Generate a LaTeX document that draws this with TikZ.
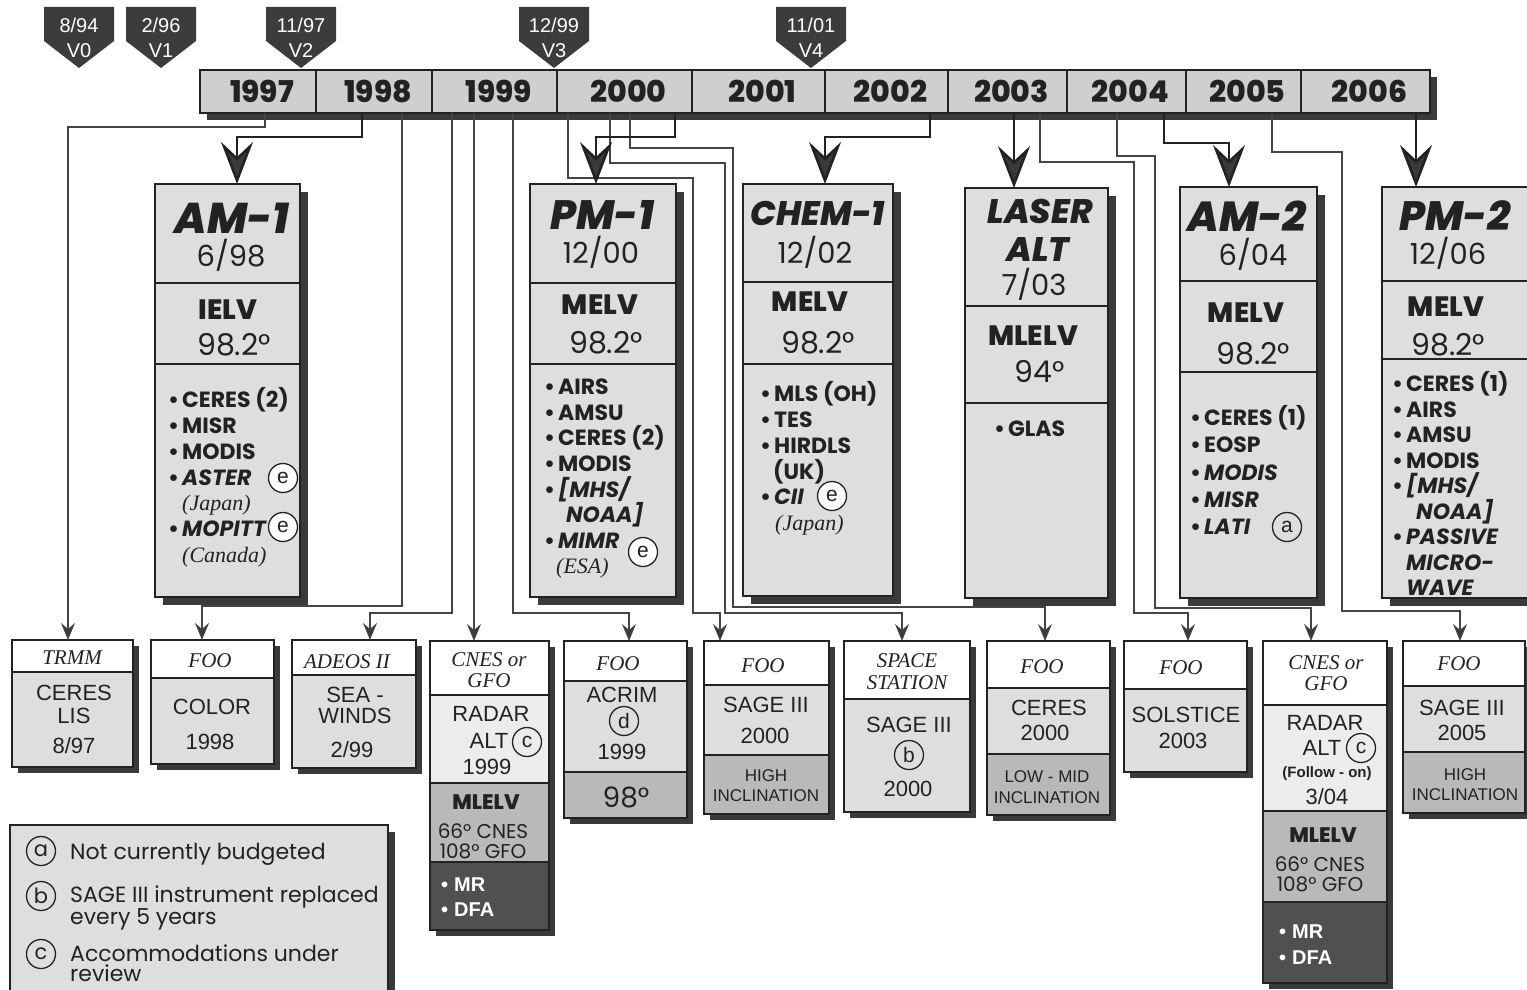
\documentclass[tikz,border=0pt]{standalone}
\usepackage{fontspec}
\usetikzlibrary{arrows.meta}
\newfontfamily\fut{Poppins}
\newfontfamily\futh{Poppins ExtraBold}[ItalicFont={Poppins ExtraBold Italic}]
\newfontfamily\hel{Liberation Sans}
\newfontfamily\tms{Liberation Serif}
\definecolor{ink}{HTML}{222222}
\definecolor{boxg}{HTML}{DEDEDE}
\definecolor{boxl}{HTML}{ECECEC}
\definecolor{barg}{HTML}{CFCFCF}
\definecolor{midg}{HTML}{B9B9B9}
\definecolor{darkg}{HTML}{505050}
\definecolor{shad}{HTML}{3A3A3A}
\definecolor{markc}{HTML}{3C3C3C}
\definecolor{linec}{HTML}{444444}
\newcommand\bu{\makebox[14pt][l]{\textbullet}}
\newcommand\shadowr[5]{\fill[shad] (#1+#5,#2+#5) rectangle (#3+#5,#4+#5);}
\newcommand\secbox[6]{\node[sec, fill=#6, minimum width={#3-#2}, minimum height={#5-#4}] (#1) at (#2,#4) {};}
\newcommand\mainbox[7]{%
  \shadowr{#2}{#4}{#3}{#7}{8}%
  \secbox{#1}{#2}{#3}{#4}{#5}{boxg}%
  \secbox{#1-m}{#2}{#3}{#5}{#6}{boxg}%
  \secbox{#1-l}{#2}{#3}{#6}{#7}{boxg}}
\newcommand\vmarker[4]{%
  \fill[markc] (#2-35,7) -- (#2+35,7) -- (#2+35,41) -- (#2,68) -- (#2-35,41) -- cycle;
  \node[mk] (#1-a) at (#2,25) {#3};
  \node[mk] (#1-b) at (#2,50) {#4};}
\tikzset{
  sec/.style={draw=ink, line width=1.8pt, anchor=north west, inner sep=0pt, outer sep=0pt},
  cell/.style={sec, fill=barg, minimum height=43, text=ink, font=\futh\fontsize{30}{30}\selectfont},
  mk/.style={anchor=base, inner sep=0pt, text=white, font=\hel\fontsize{20}{20}\selectfont, yshift=-7.2},
  fr/.style={anchor=base, inner sep=0pt, text=ink, font=\fut\fontsize{#1}{#1}\selectfont, yshift={-0.35*#1}},
  fb/.style={fr=#1, font=\fut\bfseries\fontsize{#1}{#1}\selectfont},
  fh/.style={fr=#1, font=\futh\fontsize{#1}{#1}\selectfont},
  fhi/.style={fr=#1, font=\futh\itshape\fontsize{#1}{#1}\selectfont},
  hr/.style={anchor=base, inner sep=0pt, text=ink, font=\hel\fontsize{#1}{#1}\selectfont, yshift={-0.358*#1}},
  hb/.style={hr=#1, font=\hel\bfseries\fontsize{#1}{#1}\selectfont},
  si/.style={anchor=base, inner sep=0pt, text=ink, font=\tms\itshape\fontsize{#1}{#1}\selectfont, yshift={-0.33*#1}},
  circ/.style={circle, draw=ink, line width=1.3pt, minimum size=29pt, inner sep=0pt, text=ink, font=\hel\fontsize{21}{21}\selectfont},
  circw/.style={circ, fill=white},
  bigc/.style={line width=2.6pt, draw=ink, -{Stealth[length=42pt, width=32pt, inset=15pt, fill=shad]}},
  smallc/.style={line width=1.1pt, draw=linec, -{Stealth[length=17pt, width=14pt, inset=6pt, fill=shad]}},
}
\begin{document}
\begin{tikzpicture}[x=1pt, y=-1pt]
\useasboundingbox (0,0) rectangle (1527,990);
\clip (0,0) rectangle (1527,990);

% version markers
\vmarker{m0}{79}{8/94}{V0}
\vmarker{m1}{161}{2/96}{V1}
\vmarker{m2}{301}{11/97}{V2}
\vmarker{m3}{554}{12/99}{V3}
\vmarker{m4}{811}{11/01}{V4}

% year bar
\fill[shad] (207,77) rectangle (1437,120);
\foreach \a/\b/\y in {200/316/1997, 316/432/1998, 432/557/1999, 557/692/2000, 692/825/2001, 825/948/2002, 948/1067/2003, 1067/1186/2004, 1186/1301/2005, 1301/1430/2006}
  \node[cell, minimum width={\b-\a}, text width={\b-\a-4}, align=right, inner xsep=0pt] (c\y) at (\a,70) {\makebox[\linewidth][c]{\hspace{8pt}\y}};

% ---------- main satellites ----------
% AM-1
\mainbox{am1}{155}{300}{184}{283}{364}{597}
\node[fhi=43] (am1-n) at (232,218) {AM-1};
\node[fr=29] (am1-d) at (231,256) {6/98};
\node[fh=28] (am1-v) at (228,310) {IELV};
\node[fr=30] (am1-i) at (234,345) {98.2°};
\foreach \t [count=\i from 0] in {{\bu CERES (2)}, {\bu MISR}, {\bu MODIS}, {\bu\itshape ASTER}, {\hspace*{14pt}\tms\mdseries\itshape (Japan)}, {\bu\itshape MOPITT}, {\hspace*{14pt}\tms\mdseries\itshape (Canada)}}
  \node[fb=22, anchor=base west] (am1-l\i) at (168,400+25.8*\i) {\t};
\node[circw] (am1-e1) at (283,478) {e};
\node[circw] (am1-e2) at (283,527) {e};

% PM-1
\mainbox{pm1}{530}{676}{184}{283}{364}{597}
\node[fhi=41] (pm1-n) at (602,215) {PM-1};
\node[fr=29] (pm1-d) at (601,253) {12/00};
\node[fh=28] (pm1-v) at (600,305) {MELV};
\node[fr=30] (pm1-i) at (606,343) {98.2°};
\foreach \t [count=\i from 0] in {{\bu AIRS}, {\bu AMSU}, {\bu CERES (2)}, {\bu MODIS}, {\bu\itshape [MHS/}, {\hspace*{22pt}\itshape NOAA]}, {\bu\itshape MIMR}, {\hspace*{12pt}\tms\mdseries\itshape (ESA)}}
  \node[fb=22, anchor=base west] (pm1-l\i) at (544,387+25.6*\i) {\t};
\node[circw] (pm1-e) at (643,552) {e};

% CHEM-1
\mainbox{chem}{743}{893}{184}{282}{364}{596}
\node[fhi=34] (chem-n) at (818,214) {CHEM-1};
\node[fr=29] (chem-d) at (815,253) {12/02};
\node[fh=28] (chem-v) at (810,302) {MELV};
\node[fr=30] (chem-i) at (818,343) {98.2°};
\foreach \t [count=\i from 0] in {{\bu MLS (OH)}, {\bu TES}, {\bu HIRDLS}, {\hspace*{13pt}(UK)}, {\bu\itshape CII}, {\hspace*{15pt}\tms\mdseries\itshape (Japan)}}
  \node[fb=22, anchor=base west] (chem-l\i) at (760,394+25.8*\i) {\t};
\node[circw] (chem-e) at (832,496) {e};

% LASER ALT
\mainbox{laser}{965}{1108}{188}{306}{403}{598}
\node[fhi=34] (laser-n1) at (1040,212) {LASER};
\node[fhi=34] (laser-n2) at (1038,250) {ALT};
\node[fr=29] (laser-d) at (1034,285) {7/03};
\node[fh=28] (laser-v) at (1033,336) {MLELV};
\node[fr=30] (laser-i) at (1040,372) {94°};
\node[fb=22, anchor=base west] (laser-l0) at (994,429) {\bu GLAS};

% AM-2
\mainbox{am2}{1180}{1317}{187}{281}{372}{598}
\node[fhi=42] (am2-n) at (1247,217) {AM-2};
\node[fr=29] (am2-d) at (1253,255) {6/04};
\node[fh=28] (am2-v) at (1246,313) {MELV};
\node[fr=30] (am2-i) at (1253,354) {98.2°};
\foreach \t [count=\i from 0] in {{\bu CERES (1)}, {\bu EOSP}, {\bu\itshape MODIS}, {\bu\itshape MISR}, {\bu\itshape LATI}}
  \node[fb=22, anchor=base west] (am2-l\i) at (1190,418+27.2*\i) {\t};
\node[circ] (am2-a) at (1287,527) {a};

% PM-2
\mainbox{pm2}{1382}{1545}{187}{281}{359}{598}
\node[fhi=41] (pm2-n) at (1455,216) {PM-2};
\node[fr=29] (pm2-d) at (1448,254) {12/06};
\node[fh=28] (pm2-v) at (1446,307) {MELV};
\node[fr=30] (pm2-i) at (1448,345) {98.2°};
\foreach \t [count=\i from 0] in {{\bu CERES (1)}, {\bu AIRS}, {\bu AMSU}, {\bu MODIS}, {\bu\itshape [MHS/}, {\hspace*{24pt}\itshape NOAA]}, {\bu\itshape PASSIVE}, {\hspace*{14pt}\itshape MICRO-}, {\hspace*{14pt}\itshape WAVE}}
  \node[fb=22, anchor=base west] (pm2-l\i) at (1392,384+25.5*\i) {\t};

% ---------- secondary missions ----------
% TRMM
\shadowr{12}{640}{133}{767}{6}
\secbox{trmm}{12}{133}{640}{672}{white}
\secbox{trmm-b}{12}{133}{672}{767}{boxg}
\node[si=21] (trmm-h) at (72,658) {TRMM};
\node[hr=22] (trmm-1) at (74,693) {CERES};
\node[hr=22] (trmm-2) at (74,716) {LIS};
\node[hr=22] (trmm-3) at (74,746) {8/97};

% COLOR
\shadowr{151}{640}{274}{764}{6}
\secbox{bcol}{151}{274}{640}{678}{white}
\secbox{bcol-b}{151}{274}{678}{764}{boxg}
\node[si=21] (bcol-h) at (210,661) {FOO};
\node[hr=22] (bcol-1) at (212,707) {COLOR};
\node[hr=22] (bcol-2) at (210,742) {1998};

% ADEOS II
\shadowr{292}{640}{416}{768}{6}
\secbox{adeos}{292}{416}{640}{675}{white}
\secbox{adeos-b}{292}{416}{675}{768}{boxg}
\node[si=21] (adeos-h) at (347,662) {ADEOS II};
\node[hr=22] (adeos-1) at (355,695) {SEA -};
\node[hr=22] (adeos-2) at (355,716) {WINDS};
\node[hr=22] (adeos-3) at (352,750) {2/99};

% CNES or GFO (1999)
\shadowr{430}{641}{549}{930}{6}
\secbox{cnesa}{430}{549}{641}{695}{white}
\secbox{cnesa-b}{430}{549}{695}{783}{boxl}
\secbox{cnesa-c}{430}{549}{783}{862}{midg}
\secbox{cnesa-d}{430}{549}{862}{930}{darkg}
\node[si=21] (cnesa-h1) at (489,660) {CNES or};
\node[si=21] (cnesa-h2) at (489,681) {GFO};
\node[hr=22] (cnesa-1) at (491,714) {RADAR};
\node[hr=22] (cnesa-2) at (489,741) {ALT};
\node[circ] (cnesa-c) at (527,742) {c};
\node[hr=22] (cnesa-3) at (487,767) {1999};
\node[fh=21] (cnesa-4) at (486,802) {MLELV};
\node[fr=20] (cnesa-5) at (483,831) {66° CNES};
\node[fr=20] (cnesa-6) at (483,851) {108° GFO};
\node[hb=20, text=white, anchor=base west] (cnesa-7) at (441,884) {\makebox[13pt][l]{\textbullet}MR};
\node[hb=20, text=white, anchor=base west] (cnesa-8) at (441,909) {\makebox[13pt][l]{\textbullet}DFA};

% ACRIM
\shadowr{564}{641}{687}{818}{6}
\secbox{acrim}{564}{687}{641}{681}{white}
\secbox{acrim-b}{564}{687}{681}{772}{boxg}
\secbox{acrim-c}{564}{687}{772}{818}{midg}
\node[si=21] (acrim-h) at (618,664) {FOO};
\node[hr=22] (acrim-1) at (622,695) {ACRIM};
\node[circ] (acrim-d) at (624,721) {d};
\node[hr=22] (acrim-2) at (622,752) {1999};
\node[fr=28] (acrim-3) at (626,798) {98°};

% SAGE III 2000
\shadowr{704}{641}{829}{814}{6}
\secbox{sagea}{704}{829}{641}{685}{white}
\secbox{sagea-b}{704}{829}{685}{755}{boxg}
\secbox{sagea-c}{704}{829}{755}{814}{midg}
\node[si=21] (sagea-h) at (763,666) {FOO};
\node[hr=22] (sagea-1) at (766,705) {SAGE III};
\node[hr=22] (sagea-2) at (765,736) {2000};
\node[hr=17] (sagea-3) at (766,775) {HIGH};
\node[hr=17] (sagea-4) at (766,795) {INCLINATION};

% SPACE STATION
\shadowr{844}{641}{970}{812}{6}
\secbox{stat}{844}{970}{641}{699}{white}
\secbox{stat-b}{844}{970}{699}{812}{boxg}
\node[si=21] (stat-h1) at (907,661) {SPACE};
\node[si=21] (stat-h2) at (907,683) {STATION};
\node[hr=22] (stat-1) at (909,725) {SAGE III};
\node[circ] (stat-b) at (909,755) {b};
\node[hr=22] (stat-2) at (908,789) {2000};

% CERES 2000
\shadowr{987}{641}{1110}{815}{6}
\secbox{cer}{987}{1110}{641}{688}{white}
\secbox{cer-b}{987}{1110}{688}{754}{boxg}
\secbox{cer-c}{987}{1110}{754}{815}{midg}
\node[si=21] (cer-h) at (1042,667) {FOO};
\node[hr=22] (cer-1) at (1049,708) {CERES};
\node[hr=22] (cer-2) at (1045,733) {2000};
\node[hr=17] (cer-3) at (1047,776) {LOW - MID};
\node[hr=17] (cer-4) at (1047,797) {INCLINATION};

% SOLSTICE
\shadowr{1124}{641}{1247}{772}{6}
\secbox{sol}{1124}{1247}{641}{689}{white}
\secbox{sol-b}{1124}{1247}{689}{772}{boxg}
\node[si=21] (sol-h) at (1181,668) {FOO};
\node[hr=22] (sol-1) at (1186,715) {SOLSTICE};
\node[hr=22] (sol-2) at (1183,741) {2003};

% CNES or GFO (3/04)
\shadowr{1263}{641}{1387}{983}{6}
\secbox{cnesb}{1263}{1387}{641}{705}{white}
\secbox{cnesb-b}{1263}{1387}{705}{811}{boxl}
\secbox{cnesb-c}{1263}{1387}{811}{902}{midg}
\secbox{cnesb-d}{1263}{1387}{902}{983}{darkg}
\node[si=21] (cnesb-h1) at (1326,663) {CNES or};
\node[si=21] (cnesb-h2) at (1326,684) {GFO};
\node[hr=22] (cnesb-1) at (1325,723) {RADAR};
\node[hr=22] (cnesb-2) at (1322,748) {ALT};
\node[circ] (cnesb-c) at (1361,748) {c};
\node[hb=15] (cnesb-3) at (1327,772) {(Follow - on)};
\node[hr=22] (cnesb-4) at (1327,797) {3/04};
\node[fh=21] (cnesb-5) at (1323,835) {MLELV};
\node[fr=20] (cnesb-6) at (1320,864) {66° CNES};
\node[fr=20] (cnesb-7) at (1320,884) {108° GFO};
\node[hb=20, text=white, anchor=base west] (cnesb-8) at (1279,931) {\makebox[13pt][l]{\textbullet}MR};
\node[hb=20, text=white, anchor=base west] (cnesb-9) at (1279,957) {\makebox[13pt][l]{\textbullet}DFA};

% SAGE III 2005
\shadowr{1403}{641}{1525}{813}{6}
\secbox{sageb}{1403}{1525}{641}{686}{white}
\secbox{sageb-b}{1403}{1525}{686}{752}{boxg}
\secbox{sageb-c}{1403}{1525}{752}{813}{midg}
\node[si=21] (sageb-h) at (1459,664) {FOO};
\node[hr=22] (sageb-1) at (1462,708) {SAGE III};
\node[hr=22] (sageb-2) at (1462,733) {2005};
\node[hr=17] (sageb-3) at (1465,774) {HIGH};
\node[hr=17] (sageb-4) at (1465,794) {INCLINATION};

% ---------- legend ----------
\shadowr{10}{825}{388}{1010}{7}
\secbox{legend}{10}{388}{825}{1010}{boxg}
\node[circ, font=\fut\fontsize{21}{21}\selectfont] (lg-a) at (41,851) {a};
\node[fr=22, anchor=base west] (lg-at) at (70,852) {Not currently budgeted};
\node[circ, font=\fut\fontsize{21}{21}\selectfont] (lg-b) at (41,896) {b};
\node[fr=22, anchor=base west] (lg-bt1) at (70,895) {SAGE III instrument replaced};
\node[fr=22, anchor=base west] (lg-bt2) at (70,917) {every 5 years};
\node[circ, font=\fut\fontsize{21}{21}\selectfont] (lg-c) at (41,954) {c};
\node[fr=22, anchor=base west] (lg-ct1) at (70,954) {Accommodations under};
\node[fr=22, anchor=base west] (lg-ct2) at (70,974) {review};

% ---------- connectors ----------
\draw[smallc] ([xshift=7pt]c1997.south) -- ++(0,14) -| ([xshift=-4.5pt]trmm.north);
\draw[smallc] ([xshift=28pt]c1998.south) -- ++(0,493) -| ([xshift=-10.5pt]bcol.north);
\draw[smallc] ([xshift=-42.5pt]c1999.south) -- ++(0,500) -| ([xshift=16pt]adeos.north);
\draw[smallc] ([xshift=-20.5pt]c1999.south) -- ([xshift=-15.5pt]cnesa.north);
\draw[smallc] ([xshift=18.5pt]c1999.south) -- ++(0,500) -| ([xshift=3.5pt]acrim.north);
\draw[smallc] ([xshift=-56.5pt]c2000.south) -- ++(0,65) -- ++(125,0) -- ++(0,435) -| ([xshift=-46.5pt]sagea.north);
\draw[smallc] ([xshift=-14.5pt]c2000.south) -- ++(0,50) -- ++(115,0) -- ++(0,450) -| ([xshift=-5pt]stat.north);
\draw[smallc] ([xshift=5.5pt]c2000.south) -- ++(0,35) -- ++(103,0) -- ++(0,459) -| ([xshift=-3.5pt]cer.north);
\draw[smallc] ([xshift=32.5pt]c2003.south) -- ++(0,49) -- ++(94,0) -- ++(0,451) -| ([xshift=2.5pt]sol.north);
\draw[smallc] ([xshift=-9.5pt]c2004.south) -- ++(0,43) -- ++(38,0) -- ++(0,452) -| ([xshift=-14pt]cnesb.north);
\draw[smallc] ([xshift=28.5pt]c2005.south) -- ++(0,39) -- ++(70,0) -- ++(0,459) -| ([xshift=-4pt]sageb.north);

\draw[bigc] ([xshift=-12pt]c1998.south) -- ++(0,24) -| ([xshift=9.5pt]am1.north);
\draw[bigc] ([xshift=50.5pt]c2000.south) -- ++(0,24) -| ([xshift=-7pt]pm1.north);
\draw[bigc] ([xshift=43.5pt]c2002.south) -- ++(0,24) -| ([xshift=7pt]chem.north);
\draw[bigc] ([xshift=6.5pt]c2003.south) -- ([xshift=-22.5pt]laser.north);
\draw[bigc] ([xshift=37.5pt]c2004.south) -- ++(0,30) -| ([xshift=-19.5pt]am2.north);
\draw[bigc] ([xshift=50.5pt]c2006.south) -- ([xshift=-47.5pt]pm2.north);
\end{tikzpicture}
\end{document}
